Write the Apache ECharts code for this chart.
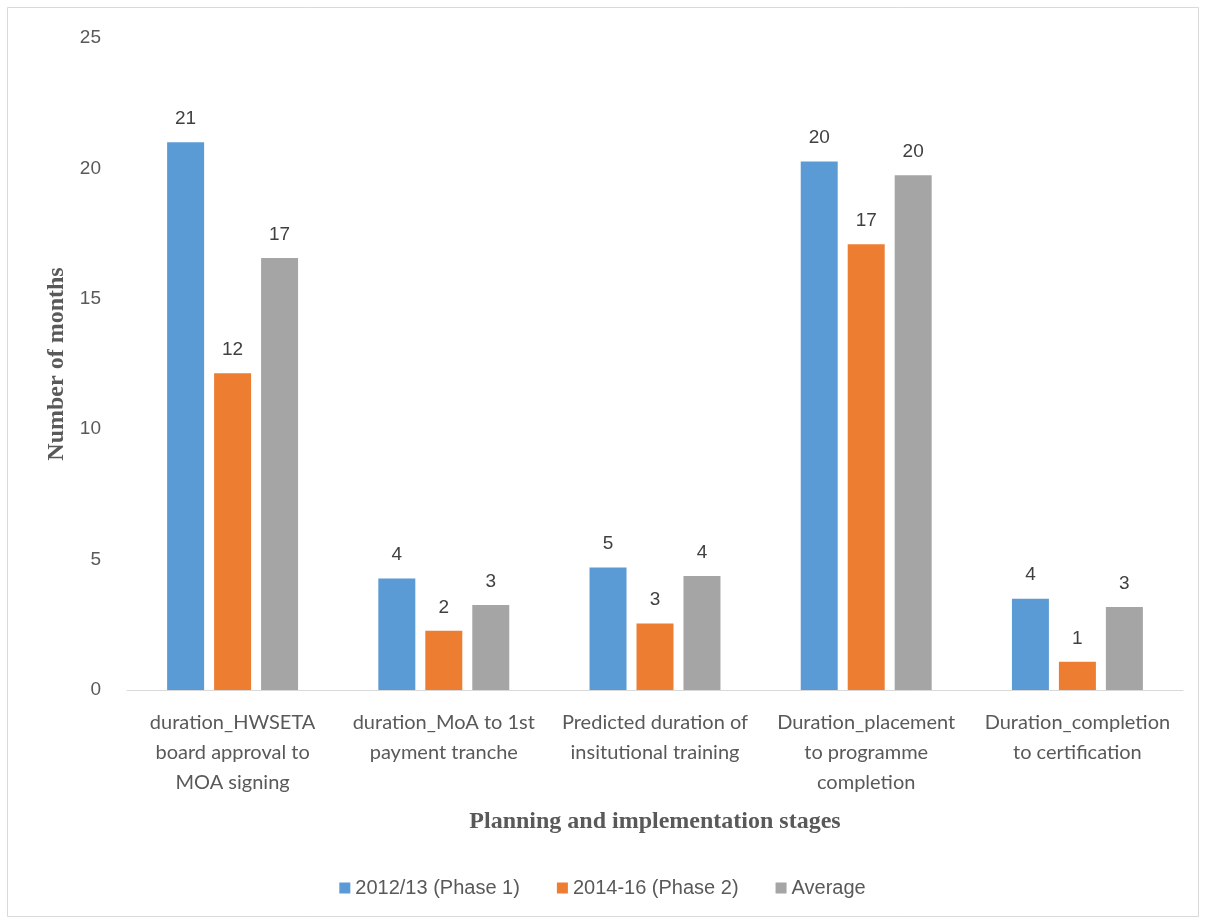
<!DOCTYPE html>
<html>
<head>
<meta charset="utf-8">
<script src="https://cdn.jsdelivr.net/npm/echarts@6/dist/echarts.min.js"></script>
<style>
  html, body { margin: 0; padding: 0; background: #ffffff; }
  #chart { width: 1205px; height: 922px; }
</style>
</head>
<body>
<div id="chart"></div>
<script>
// Planning and implementation stages (category axis, wrapped onto lines)
const stages = [
  'duration_HWSETA\nboard approval to\nMOA signing',
  'duration_MoA to 1st\npayment tranche',
  'Predicted duration of\ninsitutional training',
  'Duration_placement\nto programme\ncompletion',
  'Duration_completion\nto certification'
];

// Months per stage for each phase
const phase1 = [21.0, 4.28, 4.70, 20.26, 3.5];
const phase2 = [12.15, 2.27, 2.55, 17.09, 1.08];
const average = [16.56, 3.26, 4.37, 19.74, 3.18];

const seriesNames = ['2012/13 (Phase 1)', '2014-16 (Phase 2)', 'Average'];
const seriesColors = ['#5B9BD5', '#ED7D31', '#A5A5A5'];

// Y axis ticks
const yMin = 0, yMax = 25, yStep = 5;

const sansFont = "'Liberation Sans', Arial, sans-serif";
const labelFont = "Lato, 'Liberation Sans', sans-serif";
const serifFont = "'Liberation Serif', 'Times New Roman', serif";
const textColor = '#595959';

const chart = echarts.init(document.getElementById('chart'), null, { renderer: 'canvas' });

function barSeries(name, data, color) {
  return {
    name: name,
    type: 'bar',
    data: data,
    barGap: '27%',
    barCategoryGap: '38%',
    itemStyle: { color: color },
    label: {
      show: true,
      position: 'top',
      distance: 14,
      fontFamily: sansFont,
      fontSize: 19,
      color: '#404040',
      formatter: p => Math.round(p.value)
    }
  };
}

chart.setOption({
  backgroundColor: '#ffffff',
  animation: false,
  graphic: [{
    type: 'rect',
    shape: { x: 7.5, y: 7.5, width: 1191, height: 909 },
    style: { fill: 'none', stroke: '#d9d9d9', lineWidth: 1 },
    silent: true
  }],
  grid: { left: 127, right: 22, top: 38, bottom: 232, containLabel: false },
  legend: {
    bottom: 19,
    left: 'center',
    itemWidth: 11,
    itemHeight: 11,
    itemGap: 37,
    icon: 'rect',
    textStyle: { fontFamily: sansFont, fontSize: 20, color: textColor },
    data: seriesNames
  },
  xAxis: {
    type: 'category',
    data: stages,
    name: 'Planning and implementation stages',
    nameLocation: 'middle',
    nameGap: 120,
    nameTextStyle: { fontFamily: serifFont, fontWeight: 'bold', fontSize: 24, color: textColor },
    axisLine: { show: true, lineStyle: { color: '#d9d9d9', width: 1 } },
    axisTick: { show: false },
    axisLabel: {
      interval: 0,
      margin: 18,
      fontFamily: labelFont,
      fontSize: 20,
      lineHeight: 30,
      color: textColor,
      align: 'center'
    }
  },
  yAxis: {
    type: 'value',
    min: yMin,
    max: yMax,
    interval: yStep,
    name: 'Number of months',
    nameLocation: 'middle',
    nameGap: 58,
    nameRotate: 90,
    nameTextStyle: { fontFamily: serifFont, fontWeight: 'bold', fontSize: 24, color: textColor },
    axisLine: { show: false },
    axisTick: { show: false },
    splitLine: { show: false },
    axisLabel: { margin: 26, fontFamily: sansFont, fontSize: 19, color: textColor }
  },
  series: [
    barSeries(seriesNames[0], phase1, seriesColors[0]),
    barSeries(seriesNames[1], phase2, seriesColors[1]),
    barSeries(seriesNames[2], average, seriesColors[2])
  ]
});
</script>
</body>
</html>
